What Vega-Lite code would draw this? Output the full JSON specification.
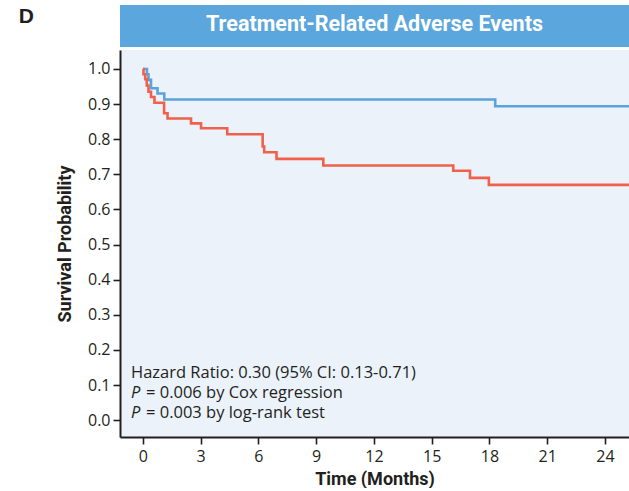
{
  "$schema": "https://vega.github.io/schema/vega-lite/v6.json",
  "padding": {"left": 18, "top": 5, "right": 0, "bottom": 0},
  "background": "white",
  "config": {
    "view": {"stroke": null},
    "concat": {"spacing": 3},
    "font": "Roboto",
    "axis": {
      "grid": false,
      "domainColor": "#231f20",
      "domainWidth": 2,
      "tickColor": "#231f20",
      "tickWidth": 1.6,
      "tickSize": 7,
      "labelOverlap": false,
      "labelFont": "Open Sans",
      "labelFontSize": 16,
      "labelColor": "#231f20",
      "titleFont": "Roboto",
      "titleFontSize": 18,
      "titleFontWeight": "bold",
      "titleColor": "#231f20"
    }
  },
  "vconcat": [
    {
      "width": 509,
      "height": 42,
      "view": {"fill": "#5BA6DD", "stroke": null},
      "title": {
        "text": "D",
        "orient": "left",
        "angle": 0,
        "anchor": "end",
        "align": "left",
        "baseline": "top",
        "offset": 86,
        "dy": 1,
        "font": "Liberation Sans",
        "fontSize": 21,
        "fontWeight": "bold",
        "color": "#231f20"
      },
      "data": {"values": [{"label": "Treatment-Related Adverse Events"}]},
      "mark": {
        "type": "text",
        "font": "Roboto",
        "fontSize": 21.5,
        "fontWeight": "bold",
        "color": "white",
        "baseline": "middle",
        "dy": -1
      },
      "encoding": {"text": {"field": "label"}}
    },
    {
      "width": 509,
      "height": 387,
      "view": {"fill": "#EBF2FA", "stroke": null},
      "layer": [
        {
          "data": {
            "values": [
              {"group": "With TRAE", "t": 0, "s": 1.0},
              {"group": "With TRAE", "t": 0.21, "s": 0.985},
              {"group": "With TRAE", "t": 0.29, "s": 0.969},
              {"group": "With TRAE", "t": 0.42, "s": 0.945},
              {"group": "With TRAE", "t": 0.76, "s": 0.93},
              {"group": "With TRAE", "t": 1.11, "s": 0.913},
              {"group": "With TRAE", "t": 18.3, "s": 0.894},
              {"group": "With TRAE", "t": 25.25, "s": 0.894},
              {"group": "Without TRAE", "t": 0, "s": 1.0},
              {"group": "Without TRAE", "t": 0.03, "s": 0.985},
              {"group": "Without TRAE", "t": 0.12, "s": 0.971},
              {"group": "Without TRAE", "t": 0.2, "s": 0.953},
              {"group": "Without TRAE", "t": 0.29, "s": 0.935},
              {"group": "Without TRAE", "t": 0.42, "s": 0.92},
              {"group": "Without TRAE", "t": 0.6, "s": 0.904},
              {"group": "Without TRAE", "t": 1.1, "s": 0.874},
              {"group": "Without TRAE", "t": 1.28, "s": 0.859},
              {"group": "Without TRAE", "t": 2.5, "s": 0.845},
              {"group": "Without TRAE", "t": 3.02, "s": 0.831},
              {"group": "Without TRAE", "t": 4.38, "s": 0.814},
              {"group": "Without TRAE", "t": 6.22, "s": 0.779},
              {"group": "Without TRAE", "t": 6.3, "s": 0.763},
              {"group": "Without TRAE", "t": 6.94, "s": 0.744},
              {"group": "Without TRAE", "t": 9.37, "s": 0.725},
              {"group": "Without TRAE", "t": 16.12, "s": 0.71},
              {"group": "Without TRAE", "t": 16.99, "s": 0.69},
              {"group": "Without TRAE", "t": 17.97, "s": 0.67},
              {"group": "Without TRAE", "t": 25.25, "s": 0.67}
            ]
          },
          "mark": {"type": "line", "interpolate": "step-after", "strokeWidth": 2.6},
          "encoding": {
            "x": {
              "field": "t",
              "type": "quantitative",
              "scale": {"domain": [-1.19, 25.25], "nice": false, "zero": false},
              "axis": {
                "title": "Time (Months)",
                "values": [0, 3, 6, 9, 12, 15, 18, 21, 24],
                "labelPadding": 4,
                "titlePadding": 6
              }
            },
            "y": {
              "field": "s",
              "type": "quantitative",
              "scale": {"domain": [-0.048, 1.054], "nice": false, "zero": false},
              "axis": {
                "title": "Survival Probability",
                "values": [0, 0.1, 0.2, 0.3, 0.4, 0.5, 0.6, 0.7, 0.8, 0.9, 1.0],
                "tickCount": 11,
                "format": ".1f",
                "labelPadding": 3,
                "titlePadding": 13
              }
            },
            "color": {
              "field": "group",
              "type": "nominal",
              "scale": {"domain": ["With TRAE", "Without TRAE"], "range": ["#5BA3DA", "#F0604A"]},
              "legend": null
            },
            "order": {"field": "t", "type": "quantitative"}
          }
        },
        {
          "data": {
            "values": [
              {"t": -0.62, "s": 0.077, "italic": "P"},
              {"t": -0.62, "s": 0.02, "italic": "P"}
            ]
          },
          "mark": {"type": "text", "align": "left", "baseline": "middle", "font": "Open Sans", "fontSize": 16.5, "fontStyle": "italic", "color": "#231f20"},
          "encoding": {
            "x": {"field": "t", "type": "quantitative"},
            "y": {"field": "s", "type": "quantitative"},
            "text": {"field": "italic"}
          }
        },
        {
          "data": {
            "values": [
              {"t": -0.62, "s": 0.134, "line": "Hazard Ratio: 0.30 (95% CI: 0.13-0.71)"}
            ]
          },
          "mark": {"type": "text", "align": "left", "baseline": "middle", "font": "Open Sans", "fontSize": 16.5, "color": "#231f20"},
          "encoding": {
            "x": {"field": "t", "type": "quantitative"},
            "y": {"field": "s", "type": "quantitative"},
            "text": {"field": "line"}
          }
        },
        {
          "data": {
            "values": [
              {"t": -0.62, "s": 0.077, "line": "= 0.006 by Cox regression"},
              {"t": -0.62, "s": 0.02, "line": "= 0.003 by log-rank test"}
            ]
          },
          "mark": {"type": "text", "align": "left", "baseline": "middle", "dx": 15, "font": "Open Sans", "fontSize": 16.5, "color": "#231f20"},
          "encoding": {
            "x": {"field": "t", "type": "quantitative"},
            "y": {"field": "s", "type": "quantitative"},
            "text": {"field": "line"}
          }
        }
      ]
    }
  ]
}
